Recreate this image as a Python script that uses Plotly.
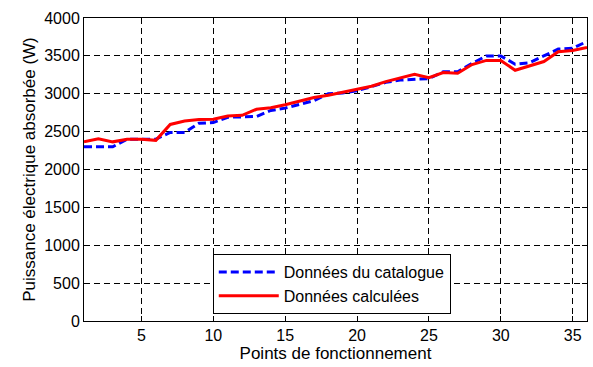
import plotly.graph_objects as go

# Operating points and absorbed electrical power (W)
points = list(range(1, 37))
catalogue_w = [2300, 2300, 2300, 2400, 2400, 2400, 2490, 2490, 2610, 2620,
               2690, 2690, 2700, 2780, 2810, 2860, 2910, 3000, 3010, 3040,
               3100, 3150, 3180, 3190, 3200, 3290, 3290, 3400, 3500, 3500,
               3390, 3410, 3500, 3590, 3600, 3690]
calcule_w = [2365, 2405, 2365, 2400, 2400, 2385, 2595, 2640, 2660, 2663,
             2705, 2715, 2795, 2815, 2855, 2900, 2950, 2980, 3020, 3060,
             3100, 3160, 3212, 3258, 3212, 3280, 3270, 3385, 3440, 3440,
             3310, 3365, 3425, 3555, 3570, 3610]

x_ticks = [5, 10, 15, 20, 25, 30, 35]
y_ticks = [0, 500, 1000, 1500, 2000, 2500, 3000, 3500, 4000]

fig = go.Figure()
fig.add_trace(go.Scatter(x=points, y=catalogue_w, mode="lines",
                         name="Données du catalogue",
                         line=dict(color="#0000ff", width=3, dash="8px,4px")))
fig.add_trace(go.Scatter(x=points, y=calcule_w, mode="lines",
                         name="Données calculées",
                         line=dict(color="#ff0000", width=3)))

axis_common = dict(showline=True, linecolor="black", linewidth=1, mirror="ticks",
                   ticks="inside", ticklen=5, tickcolor="black",
                   showgrid=True, gridcolor="black", griddash="6px,4px", gridwidth=0.8,
                   zeroline=False, tickfont=dict(size=16, color="black"),
                   title_font=dict(size=17, color="black"))

fig.update_xaxes(range=[1, 36], tickvals=x_ticks,
                 title_text="Points de fonctionnement", title_standoff=2,
                 **axis_common)
fig.update_yaxes(range=[0, 4000], tickvals=y_ticks,
                 title_text="Puissance électrique absorbée (W)", title_standoff=4,
                 **axis_common)

fig.update_layout(
    width=593, height=367,
    margin=dict(l=84, r=6, t=18, b=46),
    paper_bgcolor="white", plot_bgcolor="white",
    font=dict(family="Liberation Sans, Arial, sans-serif", color="black"),
    showlegend=True,
    legend=dict(x=0.256, y=0.221, xanchor="left", yanchor="top",
                bgcolor="white", bordercolor="black", borderwidth=1,
                font=dict(size=16, color="black"), tracegroupgap=0,
                itemwidth=60),
)

fig.write_html("out.html")
